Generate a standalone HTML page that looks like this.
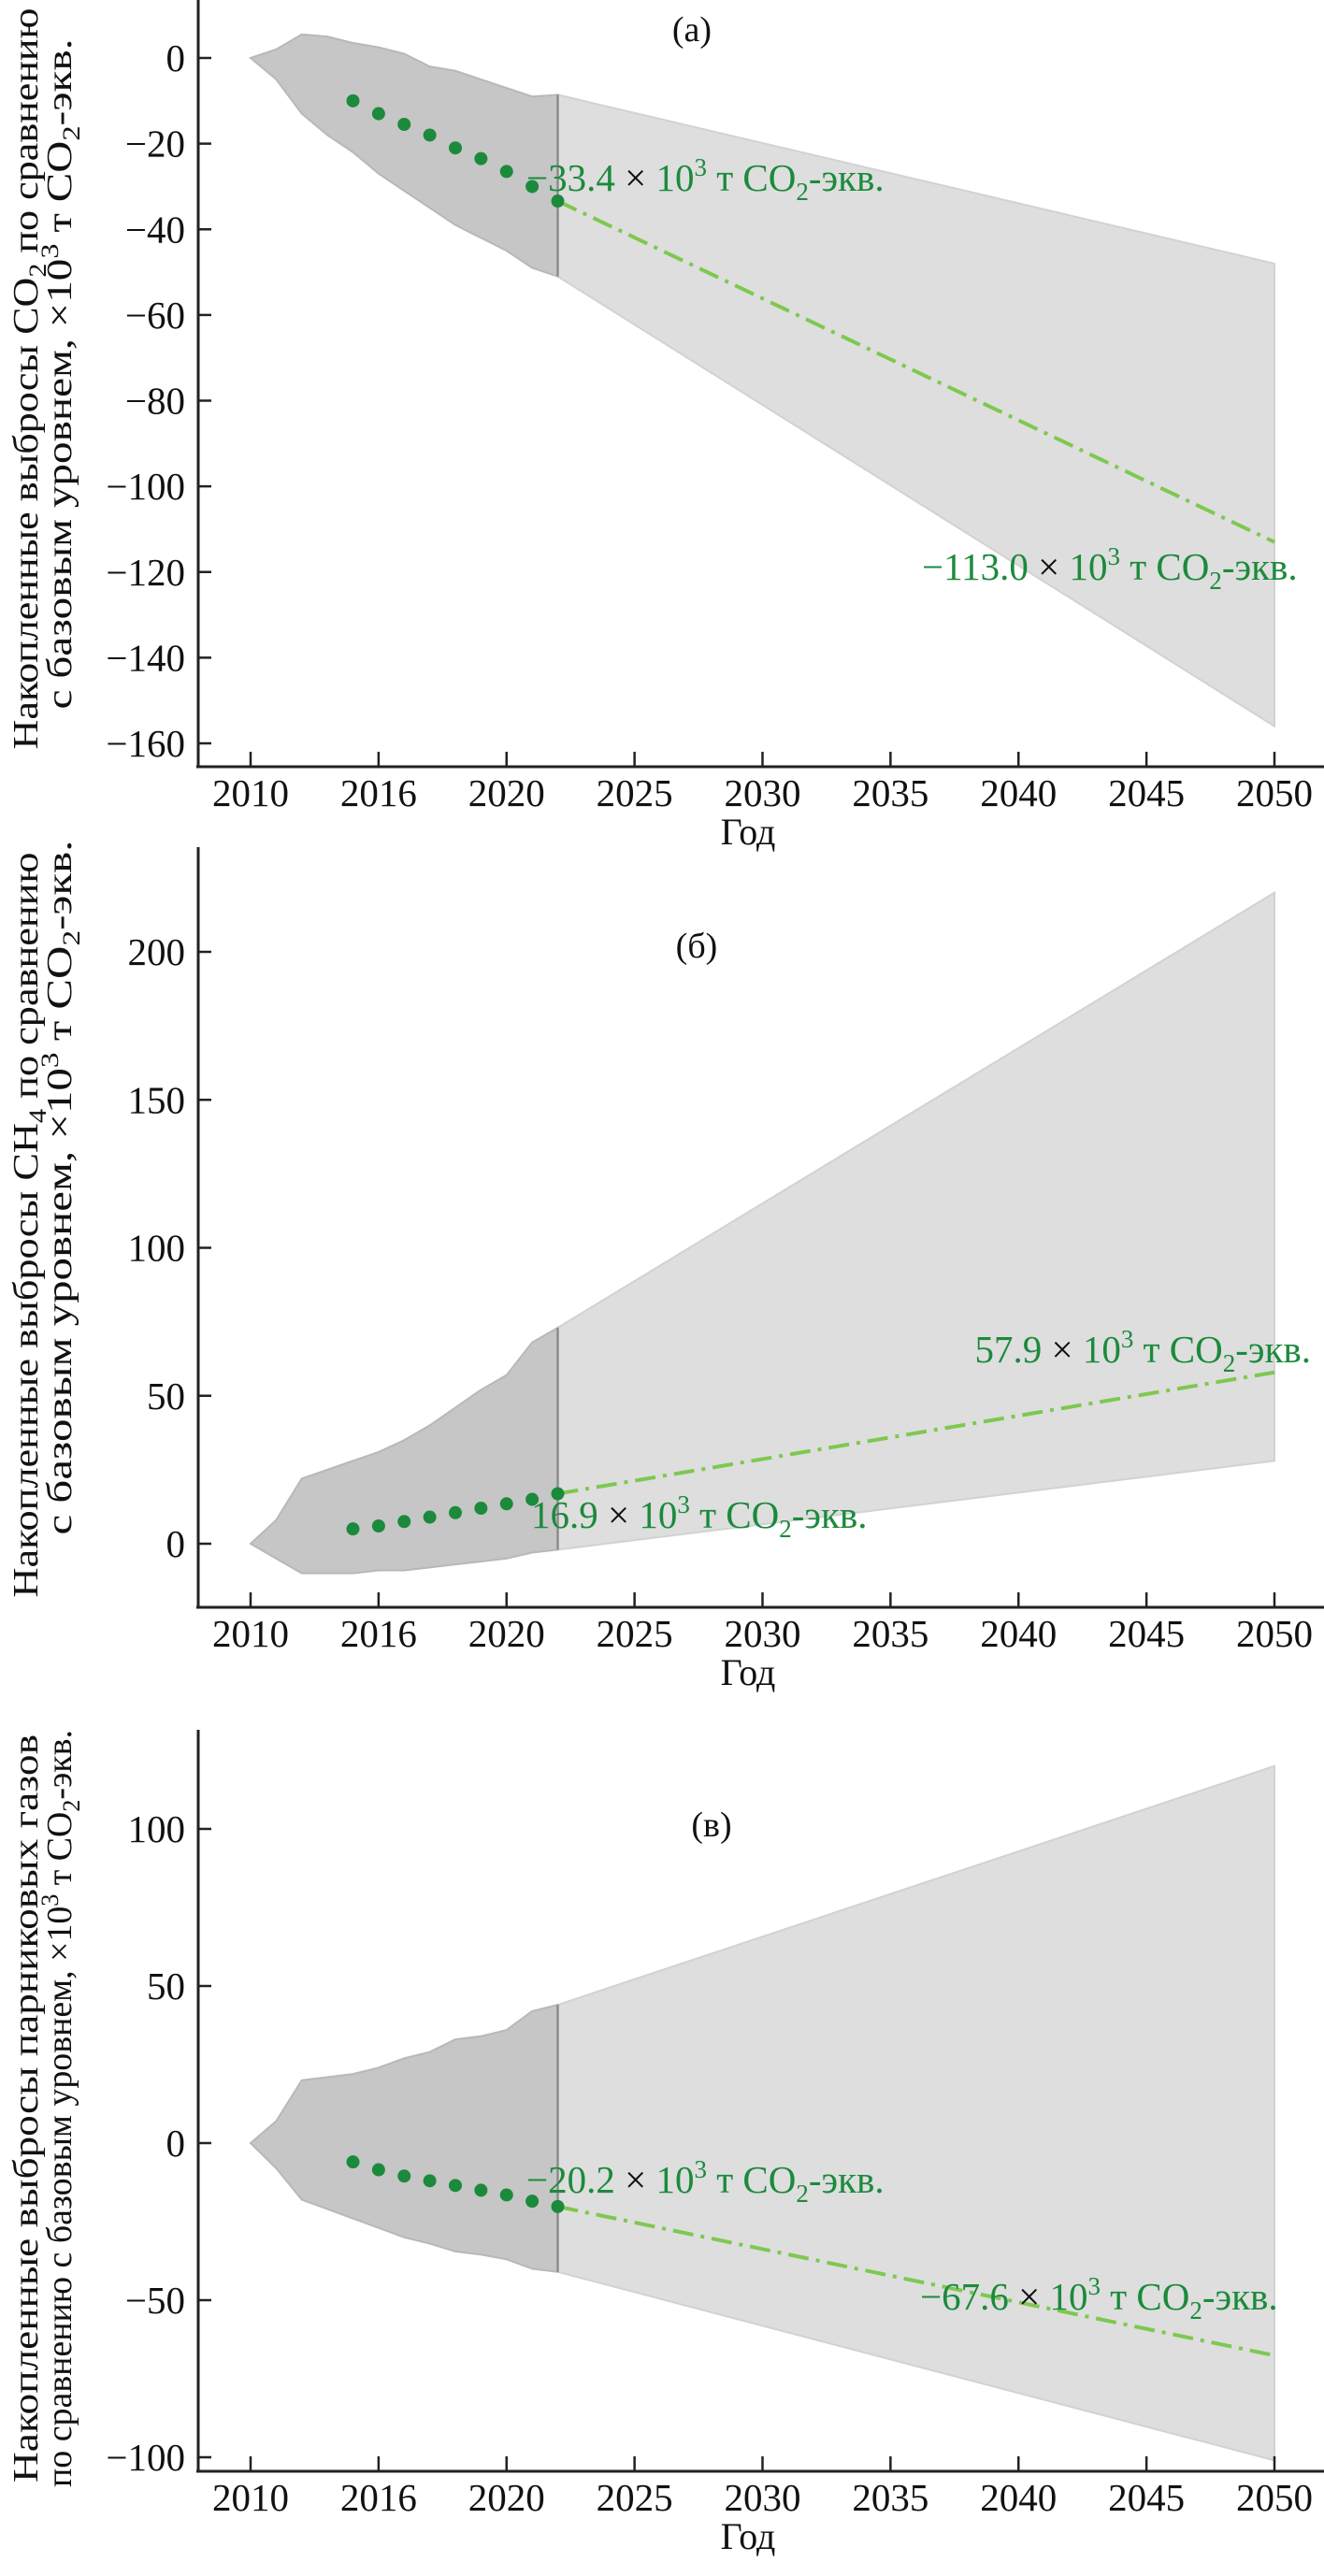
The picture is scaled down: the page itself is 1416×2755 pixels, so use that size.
<!DOCTYPE html>
<html><head><meta charset="utf-8"><style>
html,body{margin:0;padding:0;background:#fff}
svg{display:block}
text{font-family:"Liberation Serif",serif}
</style></head><body>
<svg id="fig" width="1416" height="2755" viewBox="0 0 1416 2755" xmlns="http://www.w3.org/2000/svg"></svg>
<script>
// shared x data
const years = [2010,2011,2012,2013,2014,2015,2016,2017,2018,2019,2020,2021,2022];
const dotYears = [2014,2015,2016,2017,2018,2019,2020,2021,2022];
const xTickYears = [2010,2015,2020,2025,2030,2035,2040,2045,2050];
const xTickLabels = ["2010","2016","2020","2025","2030","2035","2040","2045","2050"];
const projYears = [2022,2050];

// panel a
const aTop = [0,2,5.5,5,3.5,2.5,1,-2,-3,-5,-7,-9,-8.6];
const aBot = [0,-5,-13,-18,-22,-27,-31,-35,-39,-42,-45,-49,-51];
const aDots = [-10,-13,-15.5,-18,-21,-23.5,-26.5,-30,-33.4];
const aProjTop = [-8.6,-48];
const aProjBot = [-51,-156];
const aLine = [-33.4,-113.0];
const aYTicks = [0,-20,-40,-60,-80,-100,-120,-140,-160];

// panel b
const bTop = [0,8,22,25,28,31,35,40,46,52,57,68,73];
const bBot = [0,-5,-10,-10,-10,-9,-9,-8,-7,-6,-5,-3,-2];
const bDots = [5,6,7.5,9,10.5,12,13.5,15,16.9];
const bProjTop = [73,220];
const bProjBot = [-2,28];
const bLine = [16.9,57.9];
const bYTicks = [0,50,100,150,200];

// panel c
const cTop = [0,7,20,21,22,24,27,29,33,34,36,42,44];
const cBot = [0,-8,-18,-21,-24,-27,-30,-32,-34.5,-35.5,-37,-40,-41];
const cDots = [-6,-8.5,-10.5,-12,-13.5,-15,-16.5,-18.5,-20.2];
const cProjTop = [44,120];
const cProjBot = [-41,-101];
const cLine = [-20.2,-67.6];
const cYTicks = [100,50,0,-50,-100];

const NS="http://www.w3.org/2000/svg";
const svg=document.getElementById('fig');
function mk(tag,attrs,parent){const e=document.createElementNS(NS,tag);for(const k in attrs)e.setAttribute(k,attrs[k]);(parent||svg).appendChild(e);return e;}
const X=y=>268+(y-2010)*(1363-268)/40;
const GREEN="#1b8a3c";

function panel(cfg){
  const g=mk('g',{});
  
  
  const Y=v=>cfg.y0+(v-cfg.v0)*(cfg.y1-cfg.y0)/(cfg.v1-cfg.v0);
  let p=`M${X(projYears[0])},${Y(cfg.projTop[0])} L${X(projYears[1])},${Y(cfg.projTop[1])} L${X(projYears[1])},${Y(cfg.projBot[1])} L${X(projYears[0])},${Y(cfg.projBot[0])}Z`;
  const pb=mk('path',{d:p,fill:'#dedede',stroke:'#d2d2d2','stroke-width':2},g);
  
  
  let d='M'+years.map((yr,i)=>X(yr)+','+Y(cfg.top[i])).join(' L');
  for(let i=years.length-1;i>=0;i--)d+=' L'+X(years[i])+','+Y(cfg.bot[i]);
  d+='Z';
  const hb=mk('path',{d:d,fill:'#c6c6c6',stroke:'#b8b8b8','stroke-width':2},g);
  
  
  const vl=mk('line',{x1:X(2022),x2:X(2022),y1:Y(cfg.top[12]),y2:Y(cfg.bot[12]),stroke:'#8c8c8c','stroke-width':2.5},g);
  
  
  const fl=mk('line',{x1:X(projYears[0]),y1:Y(cfg.line[0]),x2:X(projYears[1]),y2:Y(cfg.line[1]),stroke:'#7ec850','stroke-width':4,'stroke-dasharray':'22 8 4 8'},g);
  
  
  dotYears.forEach((yr,i)=>{
    const c=mk('circle',{cx:X(yr),cy:Y(cfg.dots[i]),r:7,fill:GREEN},g);
    
    
  });
  const ya=mk('line',{x1:212,x2:212,y1:cfg.axTop,y2:cfg.axY,stroke:'#222','stroke-width':3},g);
  
  
  const xa=mk('line',{x1:210,x2:1416,y1:cfg.axY,y2:cfg.axY,stroke:'#222','stroke-width':3},g);
  
  
  cfg.yTicks.forEach(v=>{
    mk('line',{x1:212,x2:226,y1:Y(v),y2:Y(v),stroke:'#222','stroke-width':2.5},g);
    const t=mk('text',{x:198,y:Y(v)+14,'text-anchor':'end','font-size':41,fill:'#111'},g);
    
    
    t.textContent=(v<0?'\u2212'+(-v):String(v));
  });
  xTickYears.forEach((yr,i)=>{
    mk('line',{x1:X(yr),x2:X(yr),y1:cfg.axY,y2:cfg.axY-16,stroke:'#222','stroke-width':2.5},g);
    const t=mk('text',{x:X(yr),y:cfg.axY+42,'text-anchor':'middle','font-size':41,fill:'#111'},g);
    
    
    t.textContent=xTickLabels[i];
  });
  const xt=mk('text',{x:800,y:cfg.axY+83,'text-anchor':'middle','font-size':40,fill:'#111'},g);
  
  
  xt.textContent='Год';
  const pl=mk('text',{x:cfg.plx,y:cfg.ply,'text-anchor':'middle','font-size':38,fill:'#111'},g);
  
  
  pl.textContent=cfg.label;
  cfg.titles.forEach((tt,i)=>{
    const t=mk('text',{transform:`translate(${i?76:40},${tt.c}) rotate(-90)`,'text-anchor':'middle','font-size':38,fill:'#111',textLength:tt.len,lengthAdjust:'spacingAndGlyphs'},g);
    
    
    t.innerHTML=tt.html;
  });
  cfg.notes.forEach(n=>{
    const t=mk('text',{x:n.x,y:n.y,'text-anchor':n.a||'start','font-size':41,fill:GREEN},g);
    
    
    t.innerHTML=n.v+' <tspan fill="#111">×</tspan> 10<tspan dy="-16" font-size="27">3</tspan><tspan dy="16"> т CO</tspan><tspan dy="10" font-size="27">2</tspan><tspan dy="-10">-экв.</tspan>';
  });
}
const fmt=v=>(v<0?'\u2212'+(-v).toFixed(1):v.toFixed(1));
const sub2='<tspan dy="9" font-size="26">2</tspan><tspan dy="-9">';
panel({name:'panel-a-co2',v0:0,y0:62,v1:-160,y1:795,axTop:0,axY:820,top:aTop,bot:aBot,dots:aDots,projTop:aProjTop,projBot:aProjBot,line:aLine,yTicks:aYTicks,label:'(a)',plx:740,ply:44,
 titles:[{c:405,len:793,html:'Накопленные выбросы CO'+sub2+' по сравнению</tspan>'},{c:400,len:717,html:'с базовым уровнем, ×10<tspan dy="-14" font-size="26">3</tspan><tspan dy="14"> т CO</tspan>'+sub2+'-экв.</tspan>'}],
 notes:[{x:563,y:204,v:fmt(aLine[0])},{x:986,y:620,v:fmt(aLine[1])}]});
panel({name:'panel-b-ch4',v0:0,y0:1651,v1:200,y1:1018,axTop:906,axY:1719,top:bTop,bot:bBot,dots:bDots,projTop:bProjTop,projBot:bProjBot,line:bLine,yTicks:bYTicks,label:'(б)',plx:745,ply:1024,
 titles:[{c:1310,len:797,html:'Накопленные выбросы CH<tspan dy="9" font-size="26">4</tspan><tspan dy="-9"> по сравнению</tspan>'},{c:1270,len:743,html:'с базовым уровнем, ×10<tspan dy="-14" font-size="26">3</tspan><tspan dy="14"> т CO</tspan>'+sub2+'-экв.</tspan>'}],
 notes:[{x:1402,y:1457,v:fmt(bLine[1]),a:'end'},{x:568,y:1634,v:fmt(bLine[0])}]});
panel({name:'panel-c-ghg',v0:0,y0:2292,v1:100,y1:1956,axTop:1850,axY:2643,top:cTop,bot:cBot,dots:cDots,projTop:cProjTop,projBot:cProjBot,line:cLine,yTicks:cYTicks,label:'(в)',plx:761,ply:1964,
 titles:[{c:2255,len:800,html:'Накопленные выбросы парниковых газов'},{c:2255,len:810,html:'по сравнению с базовым уровнем, ×10<tspan dy="-14" font-size="26">3</tspan><tspan dy="14"> т CO</tspan>'+sub2+'-экв.</tspan>'}],
 notes:[{x:563,y:2345,v:fmt(cLine[0])},{x:984,y:2470,v:fmt(cLine[1])}]});
</script>
</body></html>
